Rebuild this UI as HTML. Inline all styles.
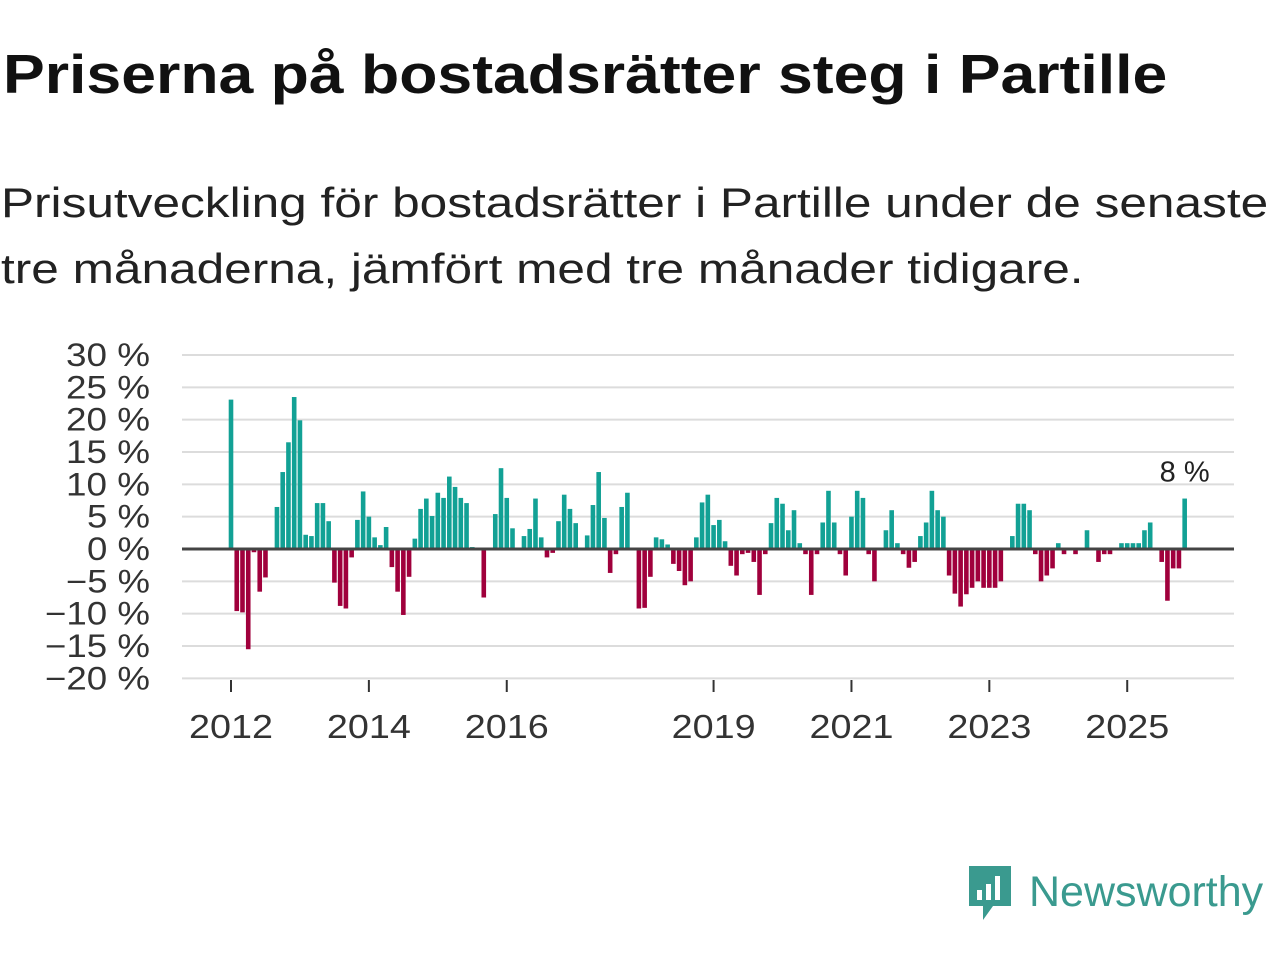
<!DOCTYPE html>
<html><head><meta charset="utf-8"><style>
body{margin:0;background:#fff;width:1280px;height:960px;overflow:hidden;font-family:"Liberation Sans",sans-serif;position:relative}
#title{position:absolute;left:3px;top:42px;font-size:55px;font-weight:bold;color:#111;margin:0;white-space:nowrap;transform:scaleX(1.137);transform-origin:0 0}
#sub{position:absolute;left:1px;top:170px;font-size:42px;line-height:66px;color:#222;margin:0;white-space:nowrap;transform:scaleX(1.18);transform-origin:0 0}
#logo{position:absolute;left:965px;top:862px;display:flex;align-items:center}
#logo span{font-size:43px;color:#3a9a8f;margin-left:14px}
</style></head><body>
<h1 id="title">Priserna på bostadsrätter steg i Partille</h1>
<p id="sub">Prisutveckling för bostadsrätter i Partille under de senaste<br>tre månaderna, jämfört med tre månader tidigare.</p>
<svg id="chart" width="1280" height="960" style="position:absolute;left:0;top:0"></svg>
<div id="logo">
<svg width="50" height="60" viewBox="0 0 50 60"><path d="M4 4h42v40H28l-10 14V44H4z" fill="#3a9a8f"/><rect x="12" y="28" width="5" height="10" fill="#fff"/><rect x="21" y="22" width="5" height="16" fill="#fff"/><rect x="30" y="14" width="5" height="24" fill="#fff"/></svg>
<span>Newsworthy</span></div>
<script>
const values=[23.1,-9.6,-9.8,-15.5,-0.5,-6.6,-4.4,0,6.5,11.9,16.5,23.5,19.9,2.2,2.0,7.1,7.1,4.3,-5.2,-8.8,-9.2,-1.3,4.5,8.9,5.0,1.8,0.6,3.4,-2.8,-6.6,-10.2,-4.3,
1.6,6.2,7.8,5.1,8.7,7.9,11.2,9.6,7.9,7.1,0.3,0,-7.5,0,5.4,12.5,7.9,3.2,0,2.0,3.1,7.8,1.8,-1.3,-0.6,4.3,8.4,6.2,4.0,0,2.1,6.8,11.9,4.8,-3.7,-0.8,6.5,8.7,0.2,
-9.2,-9.1,-4.3,1.8,1.5,0.7,-2.3,-3.4,-5.6,-5.0,1.8,7.2,8.4,3.7,4.5,1.2,-2.6,-4.1,-0.8,-0.6,-2.0,-7.1,-0.8,4.0,7.9,7.0,2.9,6.0,0.9,-0.8,-7.1,-0.8,4.1,9.0,4.1,-0.8,-4.1,5.0,9.0,7.9,-0.8,
-5.0,0,2.9,6.0,0.9,-0.8,-2.9,-2.0,2.0,4.1,9.0,6.0,5.0,-4.1,-6.9,-8.9,-7.0,-6.0,-5.0,-6.0,-6.0,-6.0,-5.0,0,2.0,7.0,7.0,6.0,-0.8,-5.0,-4.1,-3.0,0.9,-0.8,0,-0.8,0,2.9,0,-2.0,-0.8,-0.8,0,0.9,0.9,0.9,0.9,2.9,4.1,0,-2.0,-8.0,-3.0,-3.0,7.8];
const yTicks=[30,25,20,15,10,5,0,-5,-10,-15,-20];
const xTickYears=[2012,2014,2016,2019,2021,2023,2025];
const startYear=2012;
const lastLabel="8 %";
const svg=document.getElementById('chart');const NS='http://www.w3.org/2000/svg';
const y=v=>549-v*6.467;
const xm=i=>231+i*5.745;
const xy=yr=>xm((yr-startYear)*12);
function mk(t,a,txt){const e=document.createElementNS(NS,t);for(const k in a)e.setAttribute(k,a[k]);if(txt!==undefined)e.textContent=txt;svg.appendChild(e);return e;}
yTicks.forEach(v=>{
 if(v!==0){const g=mk('line',{x1:182,x2:1234,y1:y(v),y2:y(v),stroke:'#dcdcdc','stroke-width':2});
 
 }
 const s=(v<0?'\u2212'+(-v):v)+' %';
 const t=mk('text',{x:150,y:y(v)+11,'text-anchor':'end','font-size':32,fill:'#333','font-family':'Liberation Sans, sans-serif',textLength:s.length*21,lengthAdjust:'spacingAndGlyphs'},s);
 
 
});
xTickYears.forEach(yr=>{
 const l=mk('line',{x1:xy(yr),x2:xy(yr),y1:680,y2:692,stroke:'#333','stroke-width':2});
 
 
 const t=mk('text',{x:xy(yr),y:738,'text-anchor':'middle','font-size':33,fill:'#333','font-family':'Liberation Sans, sans-serif',textLength:84,lengthAdjust:'spacingAndGlyphs'},yr);
 
 
});
values.forEach((v,i)=>{
 const r=mk('rect',{x:xm(i)-2.3,width:4.6,y:Math.min(y(v),y(0)),height:Math.abs(y(v)-y(0)),fill:v>=0?'#12a195':'#a0003c'});
 
 
});
const z=mk('line',{x1:182,x2:1234,y1:y(0),y2:y(0),stroke:'#444','stroke-width':3});


const li=values.length-1;
const lab=mk('text',{x:xm(li),y:y(values[li])-17,'text-anchor':'middle','font-size':29,fill:'#222','font-family':'Liberation Sans, sans-serif'},lastLabel);


</script>
</body></html>
